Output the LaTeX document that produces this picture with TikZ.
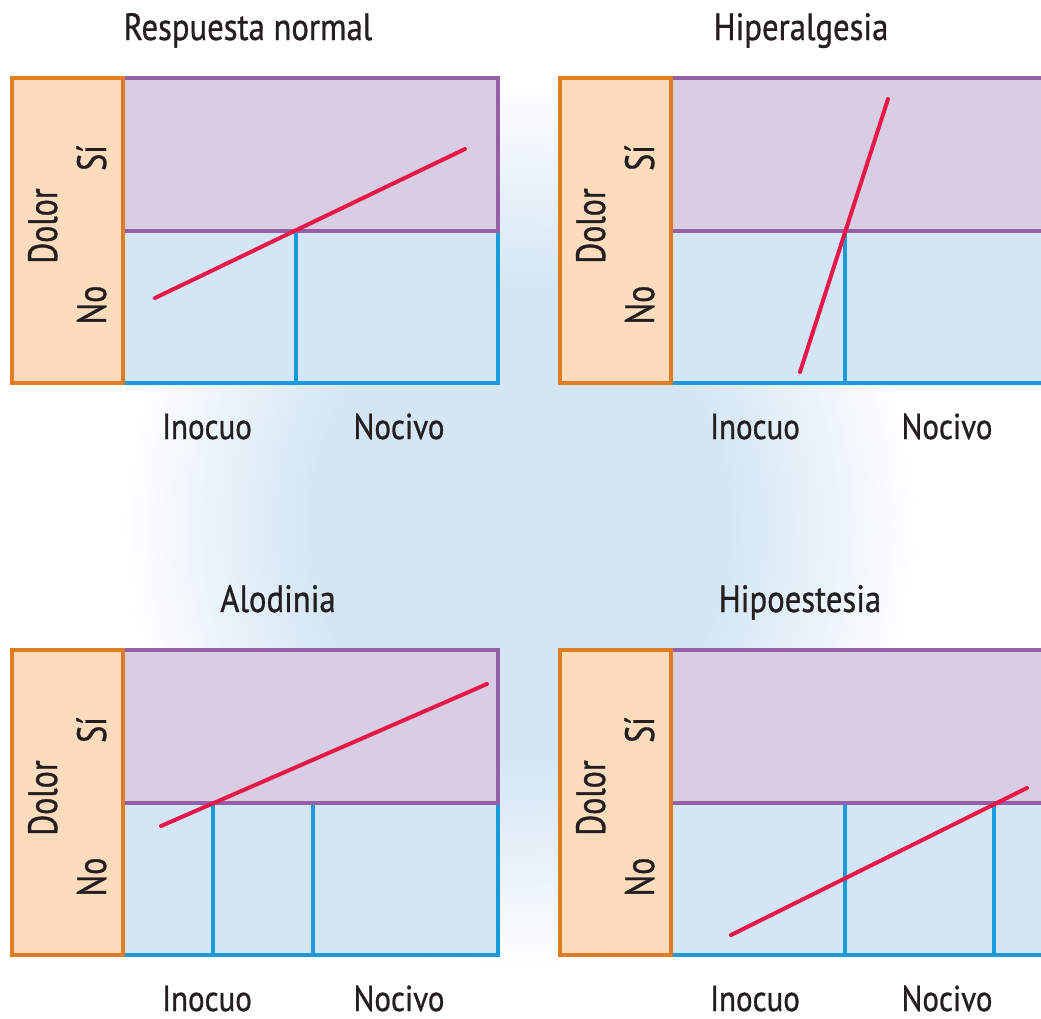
\documentclass[tikz,border=0pt]{standalone}
\usepackage{fontspec}
\setmainfont{PT Sans}[FakeStretch=0.86,FakeBold=0.8]
\newfontfamily\ladofont{PT Sans}[FakeStretch=0.78,FakeBold=0.8]
\usepackage{xcolor}
\usepackage{tikz}
\usetikzlibrary{positioning}
\definecolor{ink}    {HTML}{231F20}
\definecolor{glowc}  {HTML}{D4E6F5}
\definecolor{dolorfg}{HTML}{E07C22}
\definecolor{dolorbg}{HTML}{FDDCBD}
\definecolor{sifg}   {HTML}{9560A6}
\definecolor{sibg}   {HTML}{D8CDE2}
\definecolor{nofg}   {HTML}{1A9ADB}
\definecolor{nobg}   {HTML}{D4E6F5}
\definecolor{curve}  {HTML}{E8174A}
\pgfdeclareradialshading{glow}{\pgfpoint{0bp}{0bp}}%
  {color(0bp)=(glowc); color(13bp)=(glowc); color(25bp)=(white); color(50bp)=(white)}

\begin{document}
\begin{tikzpicture}[x=0.5pt,y=-0.5pt,font=\color{ink},
    titulo/.style={anchor=base,font=\fontsize{19}{22}\selectfont\color{ink}},
    eje/.style={anchor=base,font=\fontsize{18}{21}\selectfont\color{ink}},
    lado/.style={anchor=base,rotate=90,font=\ladofont\fontsize{20.5}{23}\selectfont\color{ink}},
    corte/.style={color=nofg,line width=1.7pt},
    respuesta/.style={color=curve,line width=2pt,line cap=round}]
  \useasboundingbox (0,0) rectangle (1041,1019);
  \clip (0,0) rectangle (1041,1019);
  \fill[white] (0,0) rectangle (1041,1019);
  \shade[shading=glow] (520,525) ellipse [x radius=400, y radius=450];

  % four panels: offset, title position, title, thresholds
  \foreach \dx/\dy/\tx/\titulo/\cortes [count=\p] in
      {0/0/248/{Respuesta normal}/{296},
       548/0/253/{Hiperalgesia}/{297},
       0/572/278/{Alodinia}/{213,313},
       548/572/252/{Hipoestesia}/{297,446}}{
    \begin{scope}[shift={(\dx,\dy)}]
      \fill[nobg] (123,231) rectangle (498,383);
      \fill[sibg] (123,78) rectangle (498,231);
      \foreach \c in \cortes{\draw[corte] (\c,231) -- (\c,383);}
      \draw[color=nofg,line width=2pt] (123,383) -- (498,383) -- (498,231);
      \draw[color=sifg,line width=2pt] (123,231) -- (498,231) -- (498,78) -- (123,78);
      \draw[color=dolorfg,fill=dolorbg,line width=2pt] (12,78) rectangle (123,383);
      \node[titulo] (titulo\p) at (\tx,40) {\titulo};
      \node[lado] (dolor\p) at (57,226) {Dolor};
      \node[lado] (si\p) at (106,158) {Sí};
      \node[lado] (no\p) at (106,305) {No};
      \node[eje] (inocuo\p) at (207,439) {Inocuo};
      \node[eje] (nocivo\p) at (399,439) {Nocivo};
    \end{scope}}

  % stimulus--response lines
  \draw[respuesta] (155,298) -- (465,149);
  \draw[respuesta] (800,372) -- (888,99);
  \draw[respuesta] (161,826) -- (487,684);
  \draw[respuesta] (731,935) -- (1027,788);
\end{tikzpicture}
\end{document}
